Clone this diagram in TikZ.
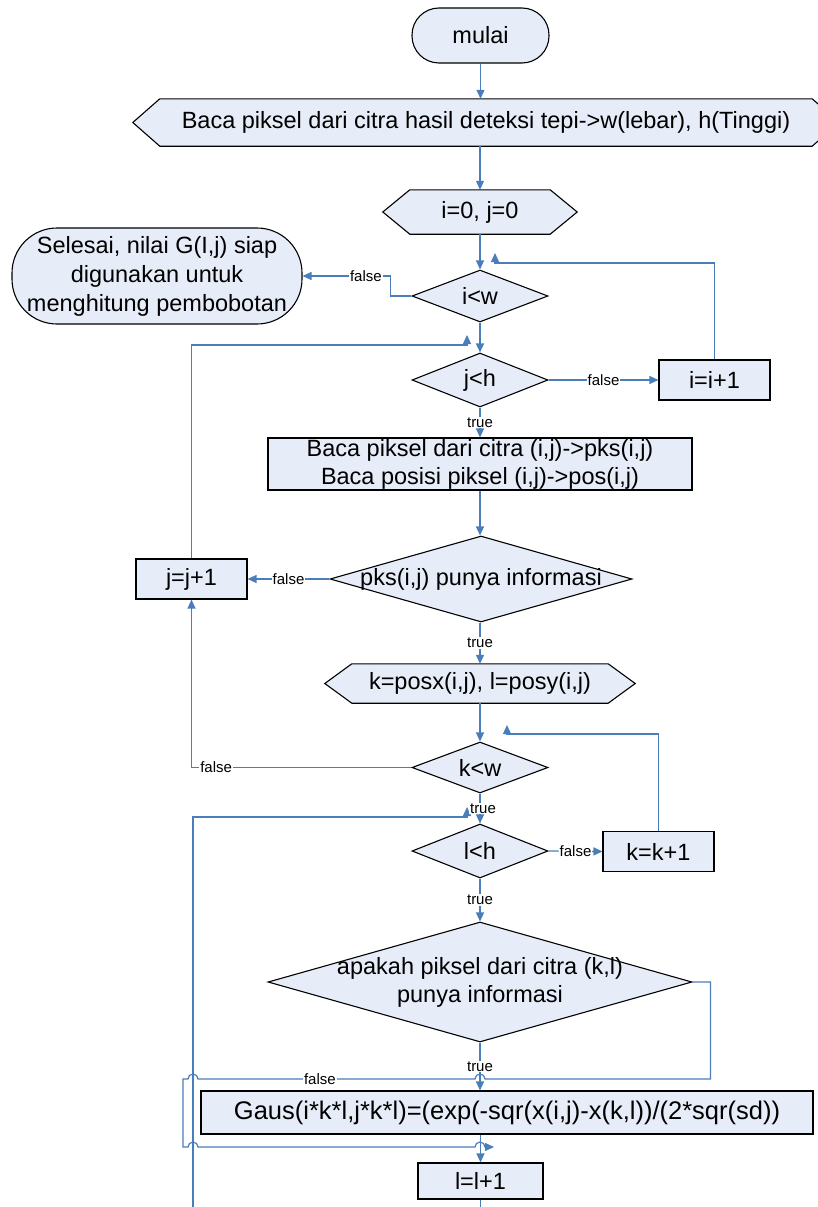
\documentclass[tikz,border=0pt]{standalone}
\usepackage{fontspec}
\setmainfont{Liberation Sans}
\usetikzlibrary{shapes.geometric,arrows.meta,backgrounds}
\definecolor{flowblue}{RGB}{74,126,187}
\definecolor{shapefill}{RGB}{231,237,248}

% outline of a six-sided input shape drawn around a rectangular node
\newcommand\hexoutline[2]{%
  \filldraw[shapeline] (#1.west) -- ([xshift=#2]#1.north west) -- ([xshift=-#2]#1.north east)
    -- (#1.east) -- ([xshift=-#2]#1.south east) -- ([xshift=#2]#1.south west) -- cycle;}

\begin{document}
\begin{tikzpicture}[x=1pt,y=-1pt,
  every node/.style={font=\fontsize{23.5}{28}\selectfont},
  shapeline/.style={draw=black,line width=1.1pt,fill=shapefill},
  procbox/.style={shapeline,rectangle,inner sep=0pt,align=center},
  termbox/.style={procbox,rounded corners=#1},
  decision/.style={shapeline,diamond,inner sep=0pt},
  hexbox/.style={rectangle,inner sep=0pt},
  flow/.style={draw=flowblue,line width=1.2pt},
  flowarrow/.style={flow,-{Triangle[length=9pt,width=8pt]}},
  branch/.style={fill=white,inner sep=1pt,font=\fontsize{15}{17}\selectfont},
]
\useasboundingbox (0,0) rectangle (817,1207);

% ---- shapes ----
\node[termbox=27,minimum width=137,minimum height=55] (start) at (480.5,35.5) {mulai};
\node[hexbox,minimum width=706,minimum height=47] (read) at (486,122.5)
  {Baca piksel dari citra hasil deteksi tepi->w(lebar), h(Tinggi)};
\node[hexbox,minimum width=194,minimum height=44] (init) at (480,212) {i=0, j=0};
\node[decision,minimum width=136,minimum height=52,label=center:i<w] (iw) at (480,296) {};
\node[termbox=45,minimum width=290,minimum height=96,font=\fontsize{23.5}{29}\selectfont]
  (done) at (157,276) {Selesai, nilai G(I,j) siap\\digunakan untuk\\menghitung pembobotan};
\node[decision,minimum width=136,minimum height=54,label=center:j<h] (jh) at (480,380) {};
\node[procbox,minimum width=111,minimum height=40] (inci) at (714.5,380) {i=i+1};
\node[procbox,minimum width=424,minimum height=52] (readpx) at (480,464)
  {Baca piksel dari citra (i,j)->pks(i,j)\\Baca posisi piksel (i,j)->pos(i,j)};
\node[decision,minimum width=302,minimum height=86,label=center:{pks(i,j) punya informasi}]
  (info) at (481,579) {};
\node[procbox,minimum width=111,minimum height=40] (incj) at (191.5,579) {j=j+1};
\node[hexbox,minimum width=310,minimum height=39] (kl) at (480,683.5) {k=posx(i,j), l=posy(i,j)};
\node[decision,minimum width=136,minimum height=51,label=center:k<w] (kw) at (480,767.5) {};
\node[decision,minimum width=136,minimum height=54,label=center:l<h] (lh) at (480,851) {};
\node[procbox,minimum width=111,minimum height=40] (inck) at (658.5,851.5) {k=k+1};
\node[decision,minimum width=424,minimum height=120,
  label={[align=center]center:{apakah piksel dari citra (k,l)\\punya informasi}}] (chk) at (480,982) {};
\node[procbox,minimum width=612,minimum height=43,font=\fontsize{25.5}{28}\selectfont] (gaus) at (507,1112.5)
  {Gaus(i*k*l,j*k*l)=(exp(-sqr(x(i,j)-x(k,l))/(2*sqr(sd))};
\node[procbox,minimum width=125,minimum height=36] (incl) at (480.5,1181) {l=l+1};

\begin{scope}[on background layer]
  \hexoutline{read}{27}
  \hexoutline{init}{27}
  \hexoutline{kl}{27}
\end{scope}

% ---- loop return points and free ends ----
\coordinate (iret) at (495,263);
\coordinate (jret) at (467,345);
\coordinate (kret) at (507,734);
\coordinate (lret) at (467,817);
\coordinate (lin) at (193,1215);
\coordinate (lout) at (480.5,1215);
\coordinate (lback) at (494,1147);

% ---- connectors ----
\draw[flowarrow] (start.south) -- (start.south |- read.north);
\draw[flowarrow] (init.north |- read.south) -- (init.north);
\draw[flowarrow] (init.south) -- (iw.north);
\draw[flowarrow] (iw.west) -- ++(-21,0) |- (done.east) node[branch,pos=0.64] {false};
\draw[flowarrow] (iw.south) -- (jh.north);
\draw[flowarrow] (jh.east) -- (inci.west) node[branch,midway] {false};
\draw[flowarrow] (inci.north) |- (iret) -- ++(0,-10);
\draw[flowarrow] (jh.south) -- (readpx.north) node[branch,midway] {true};
\draw[flowarrow] (readpx.south) -- (readpx.south |- info.north);
\draw[flowarrow] (info.west) -- (incj.east) node[branch,midway] {false};
\draw[flowarrow] (incj.north) |- (jret) -- ++(0,-10);
\draw[flowarrow] (kl.north |- info.south) -- (kl.north) node[branch,midway] {true};
\draw[flowarrow] (kl.south) -- (kw.north);
\draw[flowarrow] (inck.north) |- (kret) -- ++(0,-9);
\draw[flowarrow] (kw.west) -| (incj.south) node[branch,pos=0.444] {false};
\draw[flowarrow] (lin) |- (lret) -- ++(0,-10);
\draw[flowarrow] (kw.south) -- (lh.north) node[branch,midway,xshift=3] {true};
\draw[flowarrow] (lh.east) -- (inck.west) node[branch,midway] {false};
\draw[flowarrow] (lh.south) -- (chk.north) node[branch,midway] {true};
\draw[flowarrow] (chk.south) -- (chk.south |- gaus.north) node[branch,midway] {true};
\draw[flowarrow] (incl.north |- gaus.south) -- (incl.north);
\draw[flow] (incl.south) -- (lout);
% false branch of the pixel test, jumping over the crossing lines
\draw[flowarrow] (chk.east) -- ++(18,0) |- (485,1079)
  arc[start angle=0,end angle=180,radius=5pt]
  -- node[branch,pos=0.56] {false} (198,1079)
  arc[start angle=0,end angle=180,radius=5pt]
  -- (183,1079) |- (188,1147)
  arc[start angle=180,end angle=0,radius=5pt]
  -- (475,1147)
  arc[start angle=180,end angle=0,radius=5pt]
  -- (lback);
\end{tikzpicture}
\end{document}
